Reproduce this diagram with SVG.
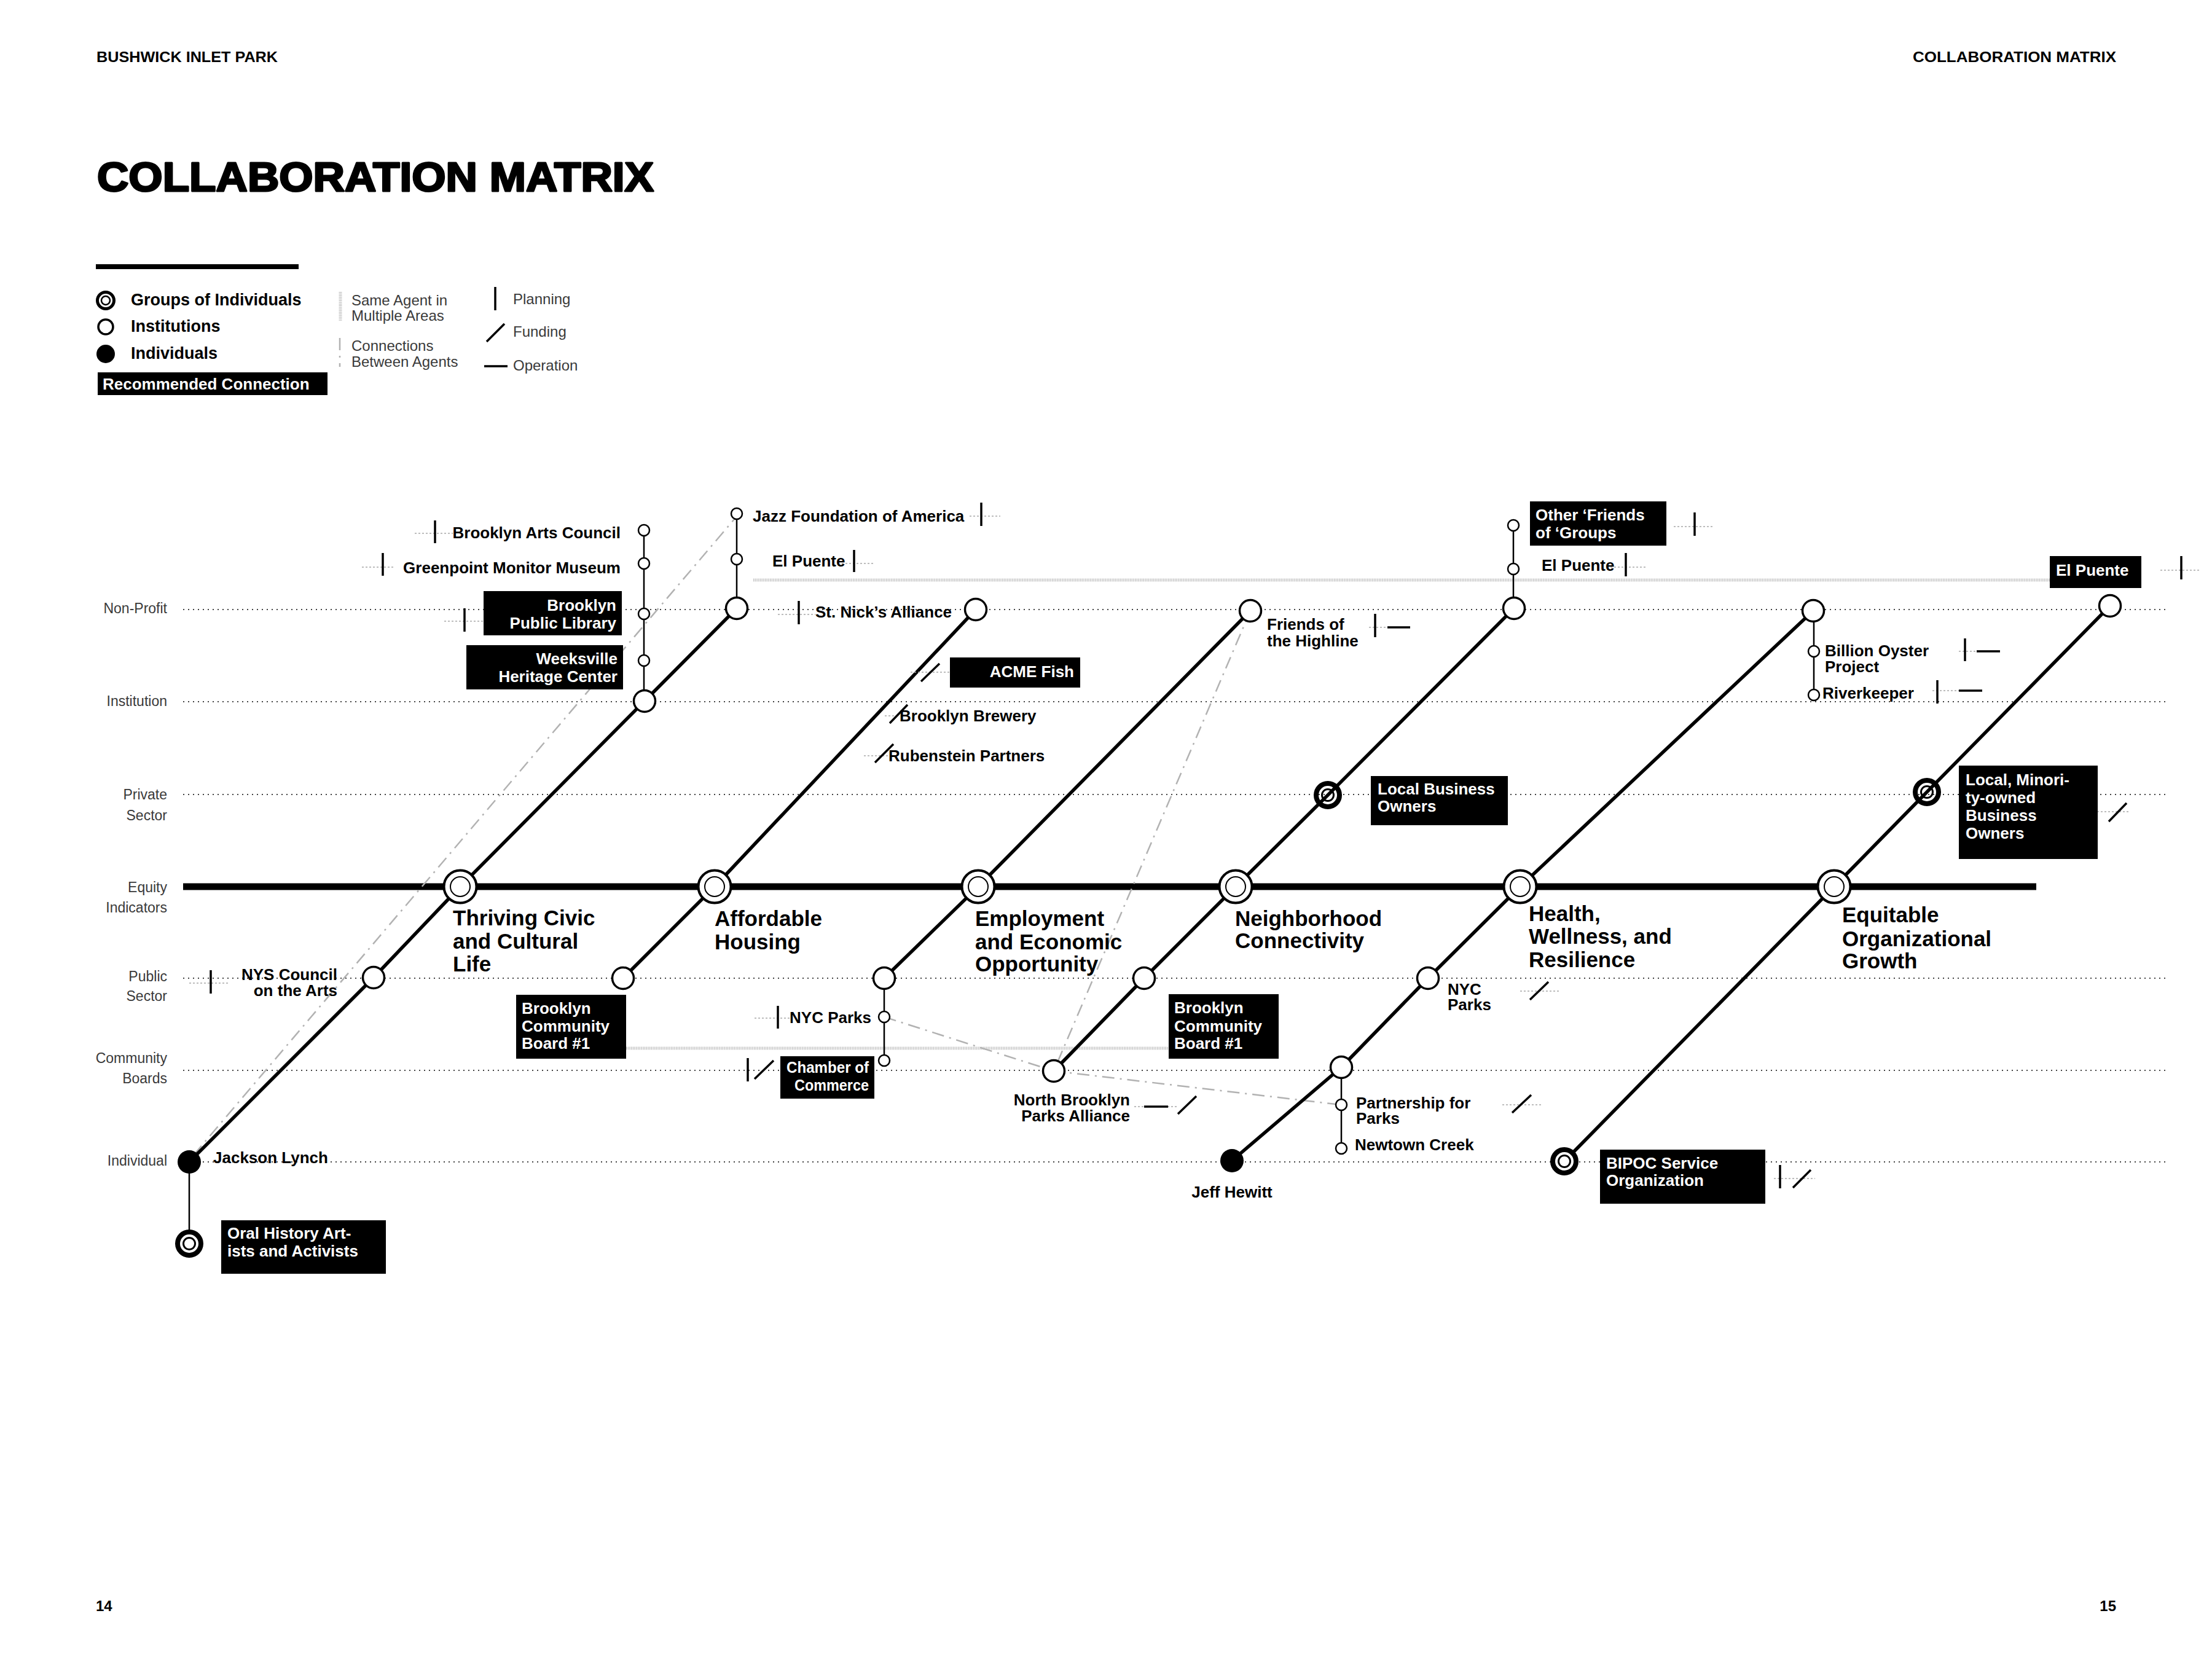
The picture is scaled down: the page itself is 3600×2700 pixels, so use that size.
<svg xmlns="http://www.w3.org/2000/svg" width="3600" height="2700" viewBox="0 0 3600 2700">
<style>
text{font-family:'Liberation Sans',Arial,sans-serif;}
.hd{font-size:24px;font-weight:700;fill:#000}
.lbl{font-size:26px;font-weight:700;fill:#000}
.bt{font-size:26px;font-weight:700;fill:#fff}
.eqt{font-size:35px;font-weight:700;fill:#000}
.ax{font-size:23px;font-weight:400;fill:#3a3a3a}
.lg{font-size:24px;font-weight:400;fill:#3a3a3a}
.lgb{font-size:27px;font-weight:700;fill:#000}
.row{stroke:#444;stroke-width:2;stroke-dasharray:2 6;fill:none}
.same{stroke:#c6c6c6;stroke-width:5;stroke-dasharray:1.5 1.2;fill:none}
.conn{stroke:#b2b2b2;stroke-width:2.5;stroke-dasharray:20 9 3 9;fill:none}
.guide{stroke:#a8a8a8;stroke-width:1.5;stroke-dasharray:3 3;fill:none}
.tick{stroke:#000;stroke-width:3.5;fill:none}
.main{stroke:#000;stroke-width:5.5;fill:none;stroke-linejoin:round}
.chain{stroke:#000;stroke-width:2.5;fill:none}
.inst{fill:#fff;stroke:#000;stroke-width:3.5}
.small{fill:#fff;stroke:#000;stroke-width:2.5}
.eqo{fill:#fff;stroke:#000;stroke-width:4}
.eqi{fill:#fff;stroke:#000;stroke-width:2}
.gro{fill:none;stroke:#000;stroke-width:8}
.gri{fill:none;stroke:#000;stroke-width:3}
.grw{fill:#fff;stroke:#000;stroke-width:8}
.ind{fill:#000}
.box{fill:#000}
</style>

<!-- header -->
<g id="header">
<text class="hd" x="157" y="101" textLength="295" lengthAdjust="spacingAndGlyphs">BUSHWICK INLET PARK</text>
<text class="hd" x="3444" y="101" text-anchor="end" textLength="331" lengthAdjust="spacingAndGlyphs">COLLABORATION MATRIX</text>
<text x="158" y="311" font-size="66" font-weight="700" fill="#000" stroke="#000" stroke-width="3" stroke-linejoin="round" textLength="906" lengthAdjust="spacingAndGlyphs">COLLABORATION MATRIX</text>
<text class="hd" x="156" y="2622">14</text>
<text class="hd" x="3444" y="2622" text-anchor="end">15</text>
</g>

<!-- legend -->
<g id="legend">
<rect x="156" y="430" width="330" height="8" fill="#000"/>
<circle cx="172" cy="489" r="13.5" fill="#fff" stroke="#000" stroke-width="5"/>
<circle cx="172" cy="489" r="7" fill="#fff" stroke="#000" stroke-width="2.5"/>
<circle cx="172" cy="532" r="12" class="inst" stroke-width="3"/>
<circle cx="172" cy="576" r="15" class="ind"/>
<text class="lgb" x="213" y="497">Groups of Individuals</text>
<text class="lgb" x="213" y="540">Institutions</text>
<text class="lgb" x="213" y="584">Individuals</text>
<rect x="159" y="606" width="374" height="37" class="box"/>
<text class="bt" x="167" y="634" font-size="26.5">Recommended Connection</text>
<path d="M554,475 V522" class="same"/>
<path d="M553,550 V597" class="conn" stroke-dasharray="14 5 3 5"/>
<text class="lg" x="572" y="497">Same Agent in</text>
<text class="lg" x="572" y="522">Multiple Areas</text>
<text class="lg" x="572" y="571">Connections</text>
<text class="lg" x="572" y="597">Between Agents</text>
<path d="M806,467 V505" class="tick"/>
<path d="M792,556 L821,527" class="tick"/>
<path d="M788,596 H826" class="tick"/>
<text class="lg" x="835" y="495">Planning</text>
<text class="lg" x="835" y="548">Funding</text>
<text class="lg" x="835" y="603">Operation</text>
</g>

<!-- axis rows -->
<g id="axis">
<path d="M298,992 H3528 M298,1142 H3528 M298,1293 H3528 M298,1592 H3528 M298,1742 H3528 M298,1891 H3528" class="row"/>
<rect x="298" y="1437.5" width="3016" height="11" fill="#000"/>
<g text-anchor="end" class="ax">
<text x="272" y="998">Non-Profit</text>
<text x="272" y="1149">Institution</text>
<text x="272" y="1301">Private</text>
<text x="272" y="1335">Sector</text>
<text x="272" y="1452">Equity</text>
<text x="272" y="1485">Indicators</text>
<text x="272" y="1597">Public</text>
<text x="272" y="1629">Sector</text>
<text x="272" y="1730">Community</text>
<text x="272" y="1763">Boards</text>
<text x="272" y="1897">Individual</text>
</g>
</g>

<!-- connectors -->
<g id="connectors">
<path d="M1226,944 H3337" class="same"/>
<path d="M1019,1706 H1902" class="same"/>
<path d="M315,1880 L1195,845" class="conn"/>
<path d="M2035,994 L1715,1743" class="conn"/>
<path d="M1439,1655 L1715,1743 L2182,1798" class="conn"/>
<path d="M308,1891 L608,1591 L749,1443 L1049,1141 L1199,990" class="main"/>
<path d="M1014,1592 L1163,1443 L1588,992" class="main"/>
<path d="M1439,1592 L1592,1443 L2035,994" class="main"/>
<path d="M1715,1743 L1862,1592 L2011,1443 L2161,1294 L2464,990" class="main"/>
<path d="M2005,1889 L2183,1737 L2324,1592 L2474,1443 L2951,994" class="main"/>
<path d="M2546,1890 L2985,1443 L3136,1289 L3434,986" class="main"/>
<path d="M1048,863 V1141 M1199,836 V990 M308,1891 V2024 M1439,1592 V1726 M2463,855 V990 M2183,1737 V1869 M2952,994 V1131" class="chain"/>
</g>

<!-- equity indicators -->
<g id="eq-thriving"><circle cx="749" cy="1443" r="26.5" class="eqo"/><circle cx="749" cy="1443" r="16" class="eqi"/>
<text class="eqt" x="737" y="1506">Thriving Civic</text><text class="eqt" x="737" y="1544">and Cultural</text><text class="eqt" x="737" y="1581">Life</text></g>
<g id="eq-housing"><circle cx="1163" cy="1443" r="26.5" class="eqo"/><circle cx="1163" cy="1443" r="16" class="eqi"/>
<text class="eqt" x="1163" y="1507">Affordable</text><text class="eqt" x="1163" y="1545">Housing</text></g>
<g id="eq-employment"><circle cx="1592" cy="1443" r="26.5" class="eqo"/><circle cx="1592" cy="1443" r="16" class="eqi"/>
<text class="eqt" x="1587" y="1507">Employment</text><text class="eqt" x="1587" y="1545">and Economic</text><text class="eqt" x="1587" y="1581">Opportunity</text></g>
<g id="eq-neighborhood"><circle cx="2011" cy="1443" r="26.5" class="eqo"/><circle cx="2011" cy="1443" r="16" class="eqi"/>
<text class="eqt" x="2010" y="1507">Neighborhood</text><text class="eqt" x="2010" y="1543">Connectivity</text></g>
<g id="eq-health"><circle cx="2474" cy="1443" r="26.5" class="eqo"/><circle cx="2474" cy="1443" r="16" class="eqi"/>
<text class="eqt" x="2488" y="1499">Health,</text><text class="eqt" x="2488" y="1536">Wellness, and</text><text class="eqt" x="2488" y="1574">Resilience</text></g>
<g id="eq-equitable"><circle cx="2985" cy="1443" r="26.5" class="eqo"/><circle cx="2985" cy="1443" r="16" class="eqi"/>
<text class="eqt" x="2998" y="1501">Equitable</text><text class="eqt" x="2998" y="1540">Organizational</text><text class="eqt" x="2998" y="1576">Growth</text></g>

<!-- Thriving Civic line agents -->
<g id="n-jackson"><circle cx="308" cy="1891" r="19" class="ind"/><text class="lbl" x="347" y="1893">Jackson Lynch</text></g>
<g id="n-oral"><circle cx="308" cy="2024" r="19" class="grw"/><circle cx="308" cy="2024" r="9.5" class="gri" fill="#fff"/>
<rect x="360" y="1986" width="268" height="87" class="box"/><text class="bt" x="370" y="2016">Oral History Art-</text><text class="bt" x="370" y="2045">ists and Activists</text></g>
<g id="n-nys"><circle cx="608" cy="1591" r="17.5" class="inst"/>
<path d="M308,1600 H374" class="guide"/><path d="M343,1579 V1617" class="tick"/>
<text class="lbl" x="549" y="1595" text-anchor="end">NYS Council</text><text class="lbl" x="549" y="1621" text-anchor="end">on the Arts</text></g>
<g id="n-weeksville"><circle cx="1049" cy="1141" r="17.5" class="inst"/><circle cx="1048" cy="1075" r="9" class="small"/>
<rect x="759" y="1050" width="255" height="72" class="box"/><text class="bt" x="1005" y="1081" text-anchor="end">Weeksville</text><text class="bt" x="1005" y="1110" text-anchor="end">Heritage Center</text></g>
<g id="n-bpl"><circle cx="1048" cy="999" r="9" class="small"/>
<path d="M723,1011 H787" class="guide"/><path d="M756,990 V1028" class="tick"/>
<rect x="787" y="962" width="225" height="72" class="box"/><text class="bt" x="1003" y="994" text-anchor="end">Brooklyn</text><text class="bt" x="1003" y="1023" text-anchor="end">Public Library</text></g>
<g id="n-greenpoint"><circle cx="1048" cy="917" r="9" class="small"/>
<path d="M589,923 H642" class="guide"/><path d="M623,900 V937" class="tick"/>
<text class="lbl" x="1010" y="933" text-anchor="end">Greenpoint Monitor Museum</text></g>
<g id="n-bac"><circle cx="1048" cy="863" r="9" class="small"/>
<path d="M675,868 H737" class="guide"/><path d="M708,847 V884" class="tick"/>
<text class="lbl" x="1010" y="876" text-anchor="end">Brooklyn Arts Council</text></g>
<g id="n-top1"><circle cx="1199" cy="990" r="17.5" class="inst"/></g>
<g id="n-elpuente1"><circle cx="1199" cy="910" r="9" class="small"/>
<path d="M1370,917 H1422" class="guide"/><path d="M1390,895 V931" class="tick"/>
<text class="lbl" x="1257" y="922">El Puente</text></g>
<g id="n-jazz"><circle cx="1199" cy="836" r="9" class="small"/>
<path d="M1578,840 H1628" class="guide"/><path d="M1597,818 V856" class="tick"/>
<text class="lbl" x="1225" y="849">Jazz Foundation of America</text></g>

<!-- Affordable Housing line agents -->
<g id="n-cb1a"><circle cx="1014" cy="1592" r="17.5" class="inst"/>
<rect x="840" y="1619" width="179" height="104" class="box"/><text class="bt" x="849" y="1650">Brooklyn</text><text class="bt" x="849" y="1679">Community</text><text class="bt" x="849" y="1707">Board #1</text></g>
<g id="n-stnick"><circle cx="1588" cy="992" r="17.5" class="inst"/>
<path d="M1266,1000 H1327" class="guide"/><path d="M1300,978 V1016" class="tick"/>
<text class="lbl" x="1327" y="1005">St. Nick’s Alliance</text></g>

<!-- Employment line agents -->
<g id="n-acme"><path d="M1482,1094 H1546" class="guide"/><path d="M1499,1109 L1529,1080" class="tick"/>
<rect x="1546" y="1070" width="212" height="49" class="box"/><text class="bt" x="1748" y="1102" text-anchor="end">ACME Fish</text></g>
<g id="n-brewery"><path d="M1440,1165 H1464" class="guide"/><path d="M1448,1177 L1477,1147" class="tick"/>
<text class="lbl" x="1464" y="1174">Brooklyn Brewery</text></g>
<g id="n-rubenstein"><path d="M1406,1230 H1446" class="guide"/><path d="M1424,1241 L1454,1211" class="tick"/>
<text class="lbl" x="1446" y="1239">Rubenstein Partners</text></g>
<g id="n-friends"><circle cx="2035" cy="994" r="17.5" class="inst"/>
<path d="M2228,1021 H2258" class="guide"/><path d="M2238,999 V1037" class="tick"/><path d="M2258,1021 H2295" class="tick"/>
<text class="lbl" x="2062" y="1025">Friends of</text><text class="lbl" x="2062" y="1052">the Highline</text></g>
<g id="n-pub3"><circle cx="1439" cy="1592" r="17.5" class="inst"/></g>
<g id="n-nycparks1"><circle cx="1439" cy="1655" r="9" class="small"/>
<path d="M1228,1657 H1287" class="guide"/><path d="M1266,1637 V1674" class="tick"/>
<text class="lbl" x="1418" y="1665" text-anchor="end">NYC Parks</text></g>
<g id="n-chamber"><circle cx="1439" cy="1726" r="9" class="small"/>
<path d="M1217,1722 V1760" class="tick"/><path d="M1228,1756 L1259,1726" class="tick"/>
<rect x="1270" y="1719" width="153" height="69" class="box"/><text class="bt" x="1414" y="1746" text-anchor="end" font-size="23" textLength="134" lengthAdjust="spacingAndGlyphs">Chamber of</text><text class="bt" x="1414" y="1775" text-anchor="end" font-size="23" textLength="121" lengthAdjust="spacingAndGlyphs">Commerce</text></g>

<!-- Neighborhood line agents -->
<g id="n-nbpa"><circle cx="1715" cy="1743" r="17.5" class="inst"/>
<path d="M1846,1801 H1918" class="guide"/><path d="M1862,1801 H1901" class="tick"/><path d="M1917,1813 L1947,1784" class="tick"/>
<text class="lbl" x="1839" y="1799" text-anchor="end">North Brooklyn</text><text class="lbl" x="1839" y="1825" text-anchor="end">Parks Alliance</text></g>
<g id="n-cb1b"><circle cx="1862" cy="1592" r="17.5" class="inst"/>
<rect x="1902" y="1618" width="179" height="105" class="box"/><text class="bt" x="1911" y="1649">Brooklyn</text><text class="bt" x="1911" y="1679">Community</text><text class="bt" x="1911" y="1707">Board #1</text></g>
<g id="n-localbiz"><circle cx="2161" cy="1294" r="19" class="gro"/><circle cx="2161" cy="1294" r="9.5" class="gri"/>
<rect x="2231" y="1263" width="223" height="80" class="box"/><text class="bt" x="2242" y="1293">Local Business</text><text class="bt" x="2242" y="1321">Owners</text></g>
<g id="n-top4"><circle cx="2464" cy="990" r="17.5" class="inst"/></g>
<g id="n-elpuente2"><circle cx="2463" cy="926" r="9" class="small"/>
<path d="M2621,923 H2679" class="guide"/><path d="M2646,900 V938" class="tick"/>
<text class="lbl" x="2509" y="929">El Puente</text></g>
<g id="n-otherfriends"><circle cx="2463" cy="855" r="9" class="small"/>
<path d="M2724,857 H2790" class="guide"/><path d="M2758,834 V872" class="tick"/>
<rect x="2490" y="816" width="222" height="72" class="box"/><text class="bt" x="2499" y="847">Other ‘Friends</text><text class="bt" x="2499" y="876">of ‘Groups</text></g>

<!-- Health line agents -->
<g id="n-jeff"><circle cx="2005" cy="1889" r="19" class="ind"/><text class="lbl" x="2005" y="1949" text-anchor="middle">Jeff Hewitt</text></g>
<g id="n-comm5"><circle cx="2183" cy="1737" r="17.5" class="inst"/></g>
<g id="n-partnership"><circle cx="2183" cy="1798" r="9" class="small"/>
<path d="M2445,1798 H2511" class="guide"/><path d="M2461,1811 L2492,1782" class="tick"/>
<text class="lbl" x="2207" y="1804">Partnership for</text><text class="lbl" x="2207" y="1829">Parks</text></g>
<g id="n-newtown"><circle cx="2183" cy="1869" r="9" class="small"/>
<text class="lbl" x="2205" y="1872">Newtown Creek</text></g>
<g id="n-nycparks2"><circle cx="2324" cy="1592" r="17.5" class="inst"/>
<path d="M2474,1613 H2540" class="guide"/><path d="M2490,1627 L2520,1598" class="tick"/>
<text class="lbl" x="2356" y="1619">NYC</text><text class="lbl" x="2356" y="1644">Parks</text></g>
<g id="n-top5"><circle cx="2951" cy="994" r="17.5" class="inst"/></g>
<g id="n-billion"><circle cx="2952" cy="1060" r="9" class="small"/>
<path d="M3188,1060 H3218" class="guide"/><path d="M3198,1039 V1076" class="tick"/><path d="M3217,1060 H3255" class="tick"/>
<text class="lbl" x="2970" y="1068">Billion Oyster</text><text class="lbl" x="2970" y="1094">Project</text></g>
<g id="n-riverkeeper"><circle cx="2952" cy="1131" r="9" class="small"/>
<path d="M3145,1124 H3188" class="guide"/><path d="M3153,1107 V1145" class="tick"/><path d="M3188,1124 H3226" class="tick"/>
<text class="lbl" x="2966" y="1137">Riverkeeper</text></g>

<!-- Equitable line agents -->
<g id="n-bipoc"><circle cx="2546" cy="1890" r="19" class="grw"/><circle cx="2546" cy="1890" r="9.5" class="gri" fill="#fff"/>
<path d="M2887,1918 H2954" class="guide"/><path d="M2897,1896 V1934" class="tick"/><path d="M2918,1933 L2947,1904" class="tick"/>
<rect x="2604" y="1871" width="269" height="88" class="box"/><text class="bt" x="2614" y="1902">BIPOC Service</text><text class="bt" x="2614" y="1930">Organization</text></g>
<g id="n-localmin"><circle cx="3136" cy="1289" r="19" class="gro"/><circle cx="3136" cy="1289" r="9.5" class="gri"/>
<path d="M3401,1321 H3467" class="guide"/><path d="M3432,1337 L3461,1307" class="tick"/>
<rect x="3188" y="1246" width="226" height="152" class="box"/><text class="bt" x="3199" y="1278">Local, Minori-</text><text class="bt" x="3199" y="1307">ty-owned</text><text class="bt" x="3199" y="1336">Business</text><text class="bt" x="3199" y="1365">Owners</text></g>
<g id="n-elpuente3"><circle cx="3434" cy="986" r="17.5" class="inst"/>
<path d="M3516,928 H3582" class="guide"/><path d="M3550,905 V943" class="tick"/>
<rect x="3336" y="905" width="149" height="52" class="box"/><text class="bt" x="3346" y="937">El Puente</text></g>
</svg>
